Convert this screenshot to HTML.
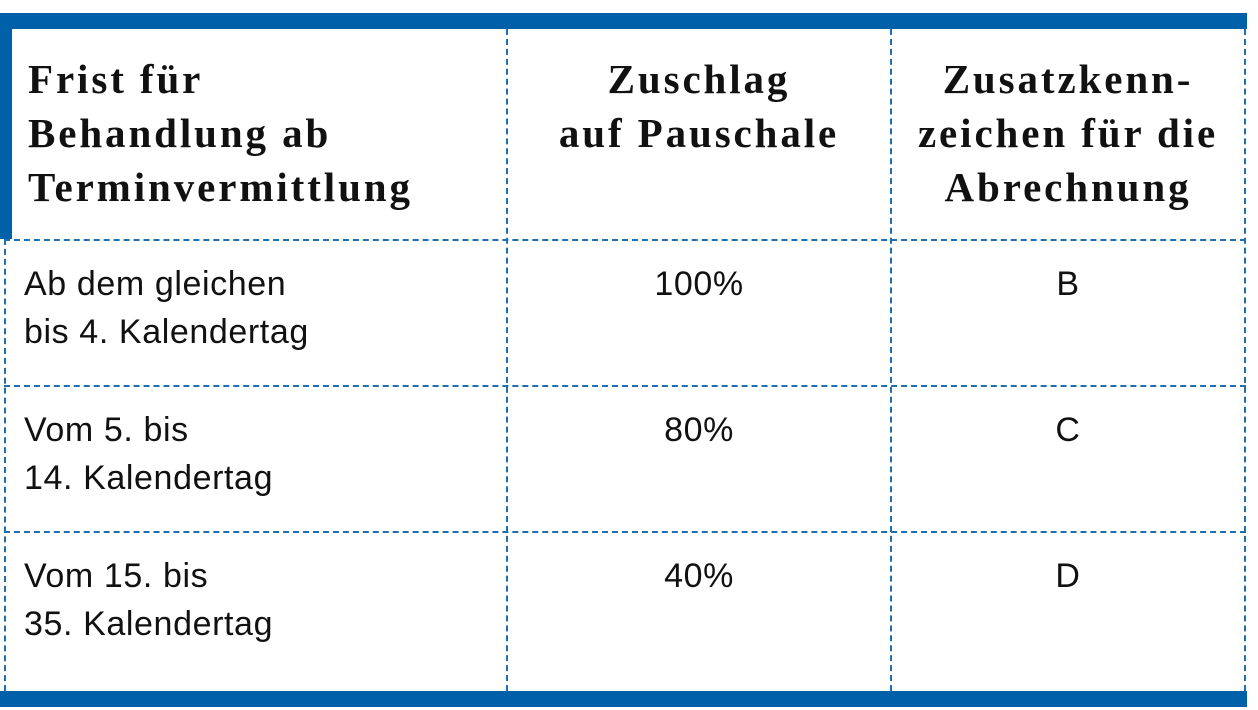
<!DOCTYPE html>
<html><head><meta charset="utf-8"><style>
body{margin:0;width:1258px;height:710px;background:#fff;position:relative;overflow:hidden}
.bar{position:absolute;background:#0061aa}
.v{position:absolute;width:0;border-left:2px dashed #1f6fb0}
.h{position:absolute;height:0;border-top:2px dashed #1f6fb0}
.t{position:absolute;color:#111;white-space:nowrap}
.hd{font-family:"Liberation Serif",serif;font-weight:bold;font-size:41px;line-height:54px;letter-spacing:2.9px}
.bd{font-family:"Liberation Sans",sans-serif;font-size:34px;line-height:48px;letter-spacing:0.6px}
.c{text-align:center}
</style></head><body>
<div class="bar" style="left:0;top:13px;width:1247px;height:16px"></div>
<div class="bar" style="left:0;top:13px;width:12px;height:226px"></div>
<div class="bar" style="left:0;top:691px;width:1247px;height:16px"></div>
<div class="v" style="left:4px;top:239px;height:452px"></div>
<div class="v" style="left:506px;top:29px;height:662px"></div>
<div class="v" style="left:890px;top:29px;height:662px"></div>
<div class="v" style="left:1244px;top:29px;height:662px"></div>
<div class="h" style="left:4px;top:239px;width:1242px"></div>
<div class="h" style="left:4px;top:385px;width:1242px"></div>
<div class="h" style="left:4px;top:531px;width:1242px"></div>
<div class="t hd" style="left:28px;top:52px">Frist für<br>Behandlung ab<br>Terminvermittlung</div>
<div class="t hd c" style="left:508px;width:382px;top:52px">Zuschlag<br>auf Pauschale</div>
<div class="t hd c" style="left:892px;width:352px;top:52px">Zusatzkenn-<br>zeichen für die<br>Abrechnung</div>
<div class="t bd" style="left:24px;top:260px">Ab dem gleichen<br>bis 4. Kalendertag</div>
<div class="t bd" style="left:24px;top:406px">Vom 5. bis<br>14. Kalendertag</div>
<div class="t bd" style="left:24px;top:552px">Vom 15. bis<br>35. Kalendertag</div>
<div class="t bd c" style="left:508px;width:382px;top:260px">100%</div>
<div class="t bd c" style="left:508px;width:382px;top:406px">80%</div>
<div class="t bd c" style="left:508px;width:382px;top:552px">40%</div>
<div class="t bd c" style="left:892px;width:352px;top:260px">B</div>
<div class="t bd c" style="left:892px;width:352px;top:406px">C</div>
<div class="t bd c" style="left:892px;width:352px;top:552px">D</div>
</body></html>
